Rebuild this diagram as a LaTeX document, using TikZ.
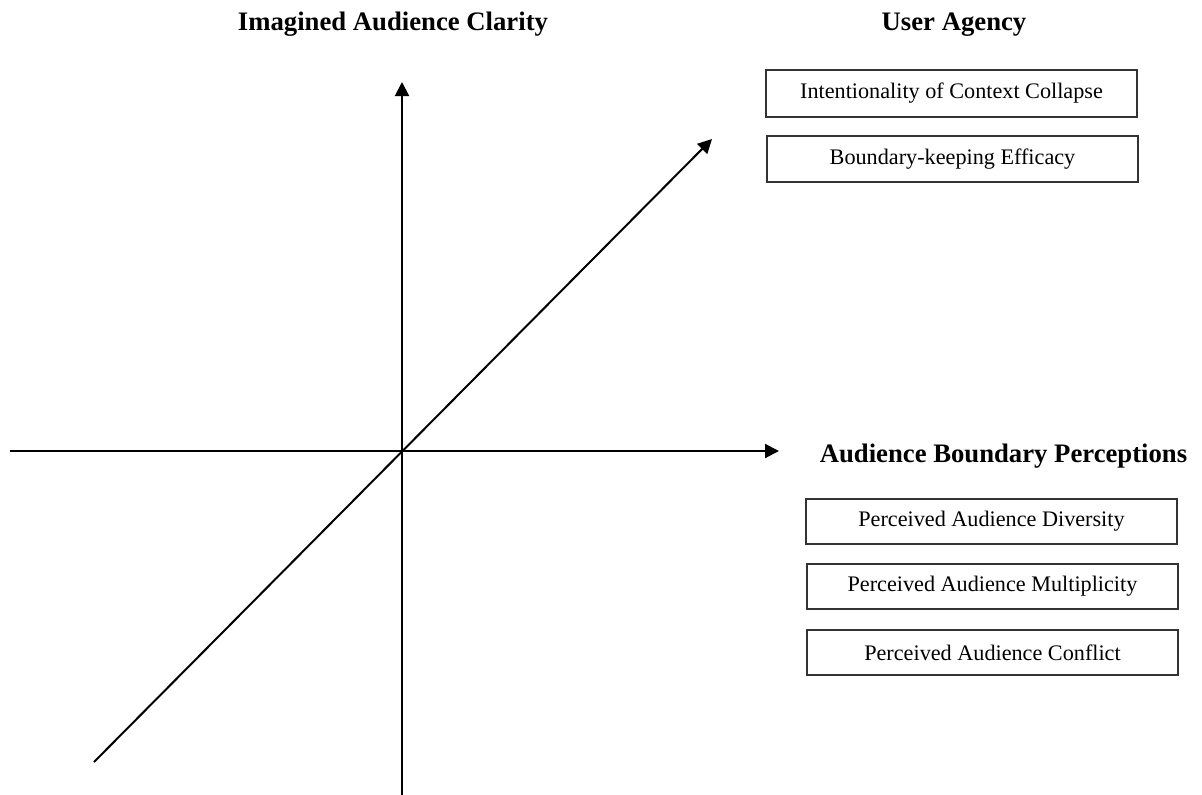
\documentclass[tikz,border=0pt]{standalone}
\usepackage{fontspec}
\setmainfont{Liberation Serif}
\usetikzlibrary{arrows.meta}
\begin{document}
\begin{tikzpicture}[x=1pt,y=-1pt,
  axis/.style={line width=2pt,line cap=butt,-{Triangle[length=14pt,width=14pt]}},
  plainaxis/.style={line width=2pt},
  heading/.style={anchor=base,inner sep=0pt,font=\fontsize{26.7}{30}\selectfont\bfseries},
  factor/.style={draw=black!80,line width=1.3pt,minimum width=371pt,minimum height=46pt,
    inner sep=0pt,font=\fontsize{22.2}{26}\selectfont}]
  \useasboundingbox (0,0) rectangle (1202,795);

  % axis end points
  \coordinate (o) at (402,451);
  \coordinate (ytop) at (402,82);
  \coordinate (ybot) at (402,795);
  \coordinate (xleft) at (10,451);
  \coordinate (xright) at (779,451);
  \coordinate (dlo) at (94,762);
  \coordinate (dhi) at (712,139);

  % axes
  \draw[axis] (ybot) -- (ytop);
  \draw[axis] (xleft) -- (xright);
  \draw[axis] (dlo) -- (dhi);

  % axis titles
  \node[heading] (clarity) at (393,30) {Imagined Audience Clarity};
  \node[heading] (agency) at (954,30) {User Agency};
  \node[heading] (boundary) at (1003.5,462) {Audience Boundary Perceptions};

  % user agency factors
  \node[factor,minimum height=47pt] (intent) at (951.5,93.5) {Intentionality of Context Collapse};
  \node[factor] (efficacy) at (952.5,159) {Boundary-keeping Efficacy};

  % boundary perception factors
  \node[factor,minimum height=45pt] (diversity) at (991.5,521.5) {Perceived Audience Diversity};
  \node[factor,minimum height=45pt] (multiplicity) at (992.5,586.5) {Perceived Audience Multiplicity};
  \node[factor,minimum height=45pt] (conflict) at (992.5,652.5) {Perceived Audience Conflict};
\end{tikzpicture}
\end{document}
